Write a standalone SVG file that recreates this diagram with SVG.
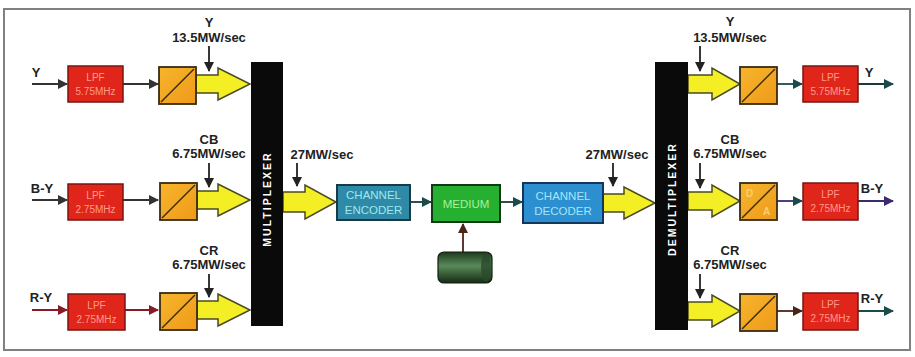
<svg xmlns="http://www.w3.org/2000/svg" width="915" height="357" viewBox="0 0 915 357">
<defs>
<style>
.lbl{font-family:"Liberation Sans",Arial,sans-serif;font-weight:bold;font-size:13px;fill:#222;text-anchor:middle}
.lpf{fill:#e0261a;stroke:#7a1410;stroke-width:1.5}
.lpft{font-family:"Liberation Sans",Arial,sans-serif;font-size:10px;fill:#ff9a88;text-anchor:middle}
.adc{fill:url(#og);stroke:#3a2a10;stroke-width:1.8}
.diag{stroke:#3a2a10;stroke-width:1.5}
.yel{fill:#f4ee24;stroke:#4a4a22;stroke-width:1.5;stroke-linejoin:miter}
.bar{fill:#0a0a0a}
.bart{font-family:"Liberation Sans",Arial,sans-serif;font-weight:bold;font-size:10.5px;fill:#fff;letter-spacing:2px;text-anchor:middle}
.boxt{font-family:"Liberation Sans",Arial,sans-serif;font-size:11.5px;text-anchor:middle}
.ln{fill:none;stroke-width:1.8}
</style>
<linearGradient id="og" x1="0" y1="0" x2="1" y2="1">
<stop offset="0" stop-color="#f7b52c"/><stop offset="1" stop-color="#ee9a1a"/>
</linearGradient>
<linearGradient id="cyl" x1="0" y1="0" x2="0" y2="1">
<stop offset="0" stop-color="#1d3a1d"/><stop offset="0.45" stop-color="#5a8a5a"/><stop offset="1" stop-color="#142a14"/>
</linearGradient>
<marker id="ahk" markerWidth="10" markerHeight="10" refX="9" refY="5" orient="auto" markerUnits="userSpaceOnUse"><path d="M0,0 L10,5 L0,10 Z" fill="#222"/></marker>
<marker id="ahg" markerWidth="10" markerHeight="10" refX="9" refY="5" orient="auto" markerUnits="userSpaceOnUse"><path d="M0,0 L10,5 L0,10 Z" fill="#333"/></marker>
<marker id="ahr" markerWidth="10" markerHeight="10" refX="9" refY="5" orient="auto" markerUnits="userSpaceOnUse"><path d="M0,0 L10,5 L0,10 Z" fill="#8a1a26"/></marker>
<marker id="ahp" markerWidth="10" markerHeight="10" refX="9" refY="5" orient="auto" markerUnits="userSpaceOnUse"><path d="M0,0 L10,5 L0,10 Z" fill="#3a2a70"/></marker>
<marker id="aht" markerWidth="10" markerHeight="10" refX="9" refY="5" orient="auto" markerUnits="userSpaceOnUse"><path d="M0,0 L10,5 L0,10 Z" fill="#1a4a4a"/></marker>
<marker id="ahb" markerWidth="10" markerHeight="10" refX="9" refY="5" orient="auto" markerUnits="userSpaceOnUse"><path d="M0,0 L10,5 L0,10 Z" fill="#4a2418"/></marker>
</defs>
<rect x="0" y="0" width="915" height="357" fill="#fff"/>
<rect x="4" y="9" width="906" height="341" fill="#fff" stroke="#808080" stroke-width="2"/>

<g id="connectors">
<line class="ln" x1="32" y1="84" x2="67" y2="84" stroke="#333" marker-end="url(#ahg)"/>
<line class="ln" x1="32" y1="200" x2="67" y2="200" stroke="#333" marker-end="url(#ahg)"/>
<line class="ln" x1="32" y1="310" x2="67" y2="310" stroke="#8a1a26" marker-end="url(#ahr)"/>
<line class="ln" x1="123" y1="84" x2="158" y2="84" stroke="#333" marker-end="url(#ahg)"/>
<line class="ln" x1="123" y1="200" x2="158" y2="200" stroke="#333" marker-end="url(#ahg)"/>
<line class="ln" x1="125" y1="310" x2="158" y2="310" stroke="#8a1a26" marker-end="url(#ahr)"/>
<path class="yel" d="M196,75 H218 V68 L250,84 L218,100 V93 H196 Z"/>
<path class="yel" d="M197,191 H218 V184 L250,200 L218,216 V209 H197 Z"/>
<path class="yel" d="M197,301 H218 V294 L250,310 L218,326 V319 H197 Z"/>
<path class="yel" d="M283,192 H305 V185 L336,202 L305,219 V212 H283 Z"/>
<line class="ln" x1="410" y1="202" x2="431" y2="202" stroke="#1a3a3a" marker-end="url(#aht)"/>
<line class="ln" x1="500" y1="202" x2="522" y2="202" stroke="#1a3a3a" marker-end="url(#aht)"/>
<line class="ln" x1="463" y1="253" x2="463" y2="224" stroke="#4a2418" marker-end="url(#ahb)"/>
<path class="yel" d="M603,194 H624 V187 L655,203 L624,219 V212 H603 Z"/>
<path class="yel" d="M688,75 H712 V68 L740,84 L712,100 V93 H688 Z"/>
<path class="yel" d="M688,192 H712 V185 L740,201 L712,217 V210 H688 Z"/>
<path class="yel" d="M688,302 H712 V295 L740,311 L712,327 V320 H688 Z"/>
<line class="ln" x1="777" y1="84" x2="802" y2="84" stroke="#1a4a4a" marker-end="url(#aht)"/>
<line class="ln" x1="777" y1="201" x2="802" y2="201" stroke="#3a2a70" marker-end="url(#aht)"/>
<line class="ln" x1="777" y1="311" x2="802" y2="311" stroke="#4a2418" marker-end="url(#ahb)"/>
<line class="ln" x1="858" y1="84" x2="893" y2="84" stroke="#1a3a3a" marker-end="url(#aht)"/>
<line class="ln" x1="858" y1="201" x2="893" y2="201" stroke="#3a2a70" marker-end="url(#ahp)"/>
<line class="ln" x1="858" y1="311" x2="893" y2="311" stroke="#1a4a4a" marker-end="url(#aht)"/>
<line class="ln" x1="209" y1="46" x2="209" y2="71" stroke="#222" marker-end="url(#ahk)"/>
<line class="ln" x1="209" y1="163" x2="209" y2="187" stroke="#222" marker-end="url(#ahk)"/>
<line class="ln" x1="209" y1="274" x2="209" y2="297" stroke="#222" marker-end="url(#ahk)"/>
<line class="ln" x1="297" y1="163" x2="297" y2="186" stroke="#222" marker-end="url(#ahk)"/>
<line class="ln" x1="613" y1="163" x2="613" y2="186" stroke="#222" marker-end="url(#ahk)"/>
<line class="ln" x1="700" y1="46" x2="700" y2="71" stroke="#222" marker-end="url(#ahk)"/>
<line class="ln" x1="700" y1="163" x2="700" y2="188" stroke="#222" marker-end="url(#ahk)"/>
<line class="ln" x1="700" y1="274" x2="700" y2="298" stroke="#222" marker-end="url(#ahk)"/>
</g>

<g id="labels">
<text class="lbl" x="36" y="77">Y</text>
<text class="lbl" x="42" y="193">B-Y</text>
<text class="lbl" x="41" y="302">R-Y</text>
<text class="lbl" x="209" y="27">Y</text>
<text class="lbl" x="209" y="42">13.5MW/sec</text>
<text class="lbl" x="209" y="144">CB</text>
<text class="lbl" x="209" y="158">6.75MW/sec</text>
<text class="lbl" x="209" y="255">CR</text>
<text class="lbl" x="209" y="269">6.75MW/sec</text>
<text class="lbl" x="322" y="159">27MW/sec</text>
<text class="lbl" x="617" y="159">27MW/sec</text>
<text class="lbl" x="730" y="26">Y</text>
<text class="lbl" x="730" y="42">13.5MW/sec</text>
<text class="lbl" x="730" y="144">CB</text>
<text class="lbl" x="730" y="158">6.75MW/sec</text>
<text class="lbl" x="730" y="255">CR</text>
<text class="lbl" x="730" y="269">6.75MW/sec</text>
<text class="lbl" x="869" y="77">Y</text>
<text class="lbl" x="872" y="193">B-Y</text>
<text class="lbl" x="872" y="303">R-Y</text>
</g>

<g id="lpf-y-in"><rect class="lpf" x="68" y="66" width="55" height="36"/><text class="lpft" x="95.5" y="81">LPF</text><text class="lpft" x="95.5" y="95">5.75MHz</text></g>
<g id="lpf-by-in"><rect class="lpf" x="68" y="184" width="55" height="36"/><text class="lpft" x="95.5" y="199">LPF</text><text class="lpft" x="95.5" y="213">2.75MHz</text></g>
<g id="lpf-ry-in"><rect class="lpf" x="68" y="294" width="57" height="36"/><text class="lpft" x="96.5" y="309">LPF</text><text class="lpft" x="96.5" y="323">2.75MHz</text></g>

<g id="adc-y"><rect class="adc" x="159" y="67" width="37" height="37"/><line class="diag" x1="161" y1="102" x2="194" y2="69"/></g>
<g id="adc-by"><rect class="adc" x="160" y="183" width="37" height="37"/><line class="diag" x1="162" y1="218" x2="195" y2="185"/></g>
<g id="adc-ry"><rect class="adc" x="160" y="293" width="37" height="37"/><line class="diag" x1="162" y1="328" x2="195" y2="295"/></g>

<g id="multiplexer"><rect class="bar" x="251" y="62" width="32" height="264"/><text class="bart" transform="translate(271,199) rotate(-90)">MULTIPLEXER</text></g>

<g id="channel-encoder"><rect x="337" y="185" width="73" height="35" fill="#2e8aa6" stroke="#1a3a44" stroke-width="2"/><text class="boxt" x="373.5" y="199" fill="#9ee8f0">CHANNEL</text><text class="boxt" x="373.5" y="214" fill="#9ee8f0">ENCODER</text></g>
<g id="medium"><rect x="432" y="185" width="68" height="37" fill="#26b032" stroke="#0f3a14" stroke-width="2"/><text class="boxt" x="466" y="208" fill="#a8f09a">MEDIUM</text></g>
<g id="storage"><rect x="438" y="252" width="54" height="31" rx="6" fill="url(#cyl)" stroke="#0e200e" stroke-width="1.2"/><ellipse cx="486" cy="267.5" rx="5" ry="14" fill="#2a4a2a" opacity="0.8"/></g>
<g id="channel-decoder"><rect x="523" y="183" width="80" height="40" fill="#2b8fd0" stroke="#14365a" stroke-width="2"/><text class="boxt" x="563" y="200" fill="#a8e4f8">CHANNEL</text><text class="boxt" x="563" y="215" fill="#a8e4f8">DECODER</text></g>

<g id="demultiplexer"><rect class="bar" x="655" y="62" width="33" height="268"/><text class="bart" transform="translate(676,199) rotate(-90)">DEMULTIPLEXER</text></g>

<g id="dac-y"><rect class="adc" x="740" y="67" width="37" height="37"/><line class="diag" x1="742" y1="102" x2="775" y2="69"/></g>
<g id="dac-by"><rect class="adc" x="740" y="183" width="37" height="37"/><line class="diag" x1="742" y1="218" x2="775" y2="185"/><text x="746" y="197" font-family="Liberation Sans, Arial, sans-serif" font-size="10" fill="#f7d070" font-weight="bold">D</text><text x="763" y="215" font-family="Liberation Sans, Arial, sans-serif" font-size="10" fill="#f7d070" font-weight="bold">A</text></g>
<g id="dac-ry"><rect class="adc" x="740" y="294" width="37" height="37"/><line class="diag" x1="742" y1="329" x2="775" y2="296"/></g>

<g id="lpf-y-out"><rect class="lpf" x="803" y="66" width="55" height="36"/><text class="lpft" x="830.5" y="81">LPF</text><text class="lpft" x="830.5" y="95">5.75MHz</text></g>
<g id="lpf-by-out"><rect class="lpf" x="803" y="183" width="55" height="37"/><text class="lpft" x="830.5" y="198">LPF</text><text class="lpft" x="830.5" y="212">2.75MHz</text></g>
<g id="lpf-ry-out"><rect class="lpf" x="803" y="293" width="55" height="37"/><text class="lpft" x="830.5" y="308">LPF</text><text class="lpft" x="830.5" y="322">2.75MHz</text></g>
</svg>
